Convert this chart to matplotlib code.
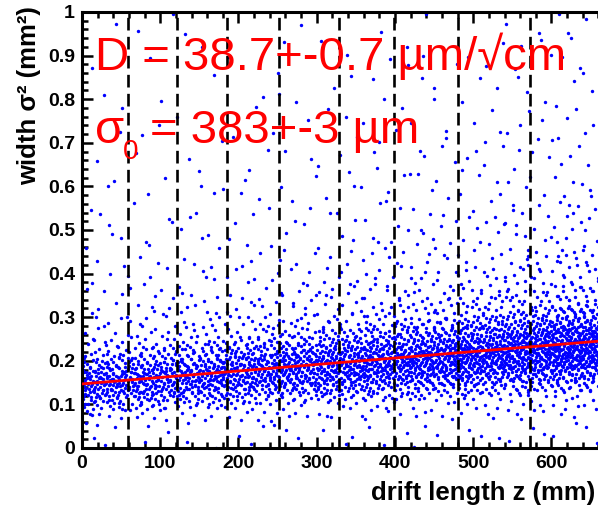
import numpy as np
import matplotlib.pyplot as plt
from matplotlib.ticker import MultipleLocator, FixedLocator, FixedFormatter

plt.rcParams['font.family'] = ['Liberation Sans', 'DejaVu Sans']

# --- data ---
# estimated number of hits per drift-length slice (mm)
z_edges = [0, 60, 120, 180, 240, 300, 360, 420, 480, 540, 600, 660]
z_counts = [230, 240, 250, 265, 280, 300, 330, 360, 400, 440, 490]
# estimated width and centre (relative to the fit line) of the dense band, mm^2
band_w = [0.036, 0.037, 0.038, 0.039, 0.040, 0.042, 0.044, 0.045, 0.046, 0.048, 0.050]
band_mid = [0.0, 0.0, -0.002, -0.003, -0.004, -0.006, -0.007, -0.008, -0.009, -0.010, -0.011]

# estimated share of hits vs distance from the band centre (in band widths)
off_edges = [-4.5, -3, -2, -1.5, -1, -0.5, 0, 0.5, 1, 1.5, 2, 3, 4.5, 7, 11, 16, 24, 30]
off_share = [0.010, 0.025, 0.044, 0.08, 0.13, 0.155, 0.155, 0.125, 0.08, 0.055,
             0.05, 0.04, 0.035, 0.03, 0.022, 0.017, 0.006]

# fitted line sigma^2 = sigma0^2 + D^2 z
fit_z = [0, 660]
fit_s2 = [0.147, 0.245]

# slice boundaries (dashed lines)
cut_z = [59, 121, 185, 252, 329, 399, 481, 572]

y_ticks = [0, 0.1, 0.2, 0.3, 0.4, 0.5, 0.6, 0.7, 0.8, 0.9, 1.0]
y_labels = ['0', '0.1', '0.2', '0.3', '0.4', '0.5', '0.6', '0.7', '0.8', '0.9', '1']
x_ticks = [0, 100, 200, 300, 400, 500, 600]
x_labels = ['0', '100', '200', '300', '400', '500', '600']


def halton(idx, base):
    # low discrepancy sequence, used to lay the counted hits out inside a cell
    out = np.zeros(len(idx))
    f = 1.0
    i = idx.astype(float).copy()
    while np.any(i > 0):
        f /= base
        out += f * (i % base)
        i = np.floor(i / base)
    return out


zs, ss = [], []
k = 1
for i in range(len(z_counts)):
    for j in range(len(off_share)):
        n = int(round(z_counts[i] * off_share[j]))
        idx = np.arange(k, k + n)
        k += n + 37  # skip ahead so neighbouring cells do not line up
        u = halton(idx, 2)
        v = halton(idx, 3)
        z = z_edges[i] + u * (z_edges[i + 1] - z_edges[i])
        base = np.interp(z, fit_z, fit_s2) + band_mid[i]
        d = off_edges[j] + v * (off_edges[j + 1] - off_edges[j])
        zs.append(z)
        ss.append(base + d * band_w[i])
zs = np.concatenate(zs)
ss = np.concatenate(ss)
keep = (ss > 0) & (ss < 1)

W, H = 598, 507
fig = plt.figure(figsize=(W / 100, H / 100), dpi=100)
ax = fig.add_axes([82 / W, (H - 448) / H, 518 / W, 436 / H])

ax.scatter(zs[keep], ss[keep], s=6, color='#0000ff', linewidths=0, zorder=2)
for c in cut_z:
    ax.axvline(c, color='black', lw=1.9, ls=(0, (4.8, 2.4)), zorder=3)
ax.plot(fit_z, fit_s2, color='#ff0000', lw=2.0, zorder=4)

ax.set_xlim(0, 662)
ax.set_ylim(0, 1)

ax.xaxis.set_major_locator(FixedLocator(x_ticks))
ax.xaxis.set_major_formatter(FixedFormatter(x_labels))
ax.xaxis.set_minor_locator(MultipleLocator(20))
ax.yaxis.set_major_locator(FixedLocator(y_ticks))
ax.yaxis.set_major_formatter(FixedFormatter(y_labels))
ax.yaxis.set_minor_locator(MultipleLocator(0.02))

ax.tick_params(which='both', direction='in', top=True, right=False, width=1.8,
               labelsize=14)
ax.tick_params(which='major', length=8, pad=5)
ax.tick_params(which='minor', length=4)
for lab in ax.get_xticklabels() + ax.get_yticklabels():
    lab.set_fontweight('bold')
for sp in ax.spines.values():
    sp.set_linewidth(2.2)

ax.set_xlabel('drift length z (mm)', fontsize=18.5, fontweight='bold', loc='right')
ax.xaxis.set_label_coords((595 - 82) / 518, (448 - 481) / 436)
ax.set_ylabel('width σ² (mm²)', fontsize=18.5, fontweight='bold', loc='top')
ax.yaxis.set_label_coords((41 - 82) / 518, (448 - 6) / 436)

# fit results
fig.text(95 / W, 1 - 70 / H, 'D = 38.7+-0.7 µm/√cm', color='#ff0000',
         fontsize=34, va='baseline', ha='left')
fig.text(95 / W, 1 - 143 / H, 'σ', color='#ff0000', fontsize=34,
         va='baseline', ha='left')
fig.text(123 / W, 1 - 159 / H, '0', color='#ff0000', fontsize=20,
         va='baseline', ha='left')
fig.text(150 / W, 1 - 143 / H, '= 383+-3 µm', color='#ff0000', fontsize=34,
         va='baseline', ha='left')

fig.savefig('out.png', dpi=100)
